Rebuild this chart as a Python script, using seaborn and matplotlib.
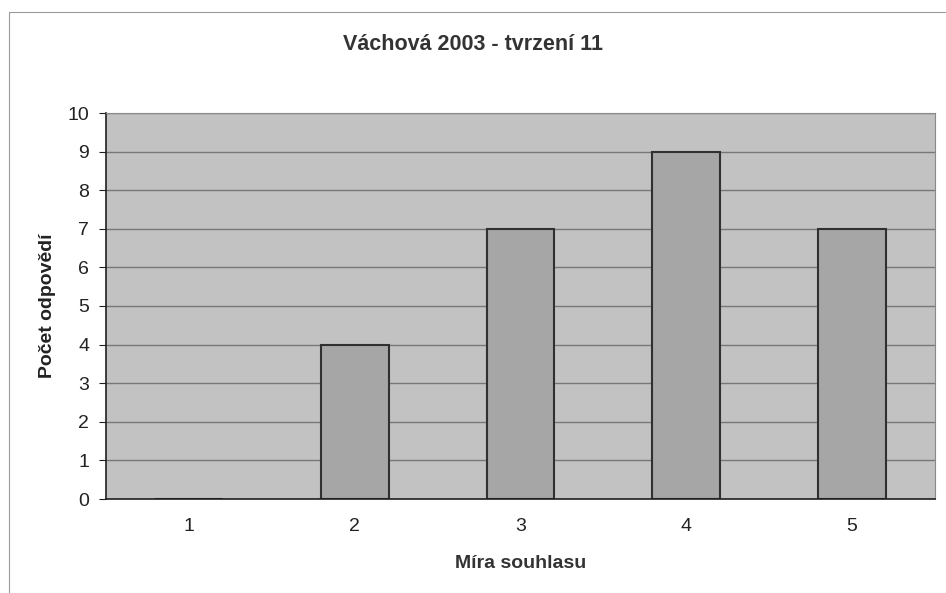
import matplotlib
matplotlib.use('Agg')
import matplotlib.pyplot as plt
import seaborn as sns
import pandas as pd

# hodnoty
kategorie = ['1', '2', '3', '4', '5']
pocty = [0, 4, 7, 9, 7]

df = pd.DataFrame({'mira': kategorie, 'pocet': pocty})

sns.set_style('white')
plt.rcParams['font.family'] = ['Liberation Sans', 'DejaVu Sans']

fig = plt.figure(figsize=(9.46, 5.93), dpi=100)
ax = fig.add_axes([106 / 946, 1 - 499 / 593, (935 - 106) / 946, (499 - 113) / 593])

sns.barplot(data=df, x='mira', y='pocet', ax=ax, color='#a6a6a6', width=0.41,
            edgecolor='#303030', linewidth=1.5, saturation=1)

ax.set_facecolor('#c2c2c2')
ax.set_ylim(0, 10)
ax.set_xlim(-0.5, 4.5)
ax.set_yticks(range(0, 11))
ax.yaxis.grid(True, color='#777777', linewidth=1)
ax.set_axisbelow(True)
for s in ['top', 'right']:
    ax.spines[s].set_color('#8a8a8a')
for s in ['left', 'bottom']:
    ax.spines[s].set_color('#202020')
    ax.spines[s].set_linewidth(1.2)

# tick carky mezi kategoriemi na ose x
ax.set_xticks([i - 0.5 for i in range(6)], minor=True)
ax.tick_params(axis='x', which='minor', length=5, color='#202020')
ax.tick_params(axis='x', which='major', length=0, labelsize=14, pad=14, colors='#222222')
ax.tick_params(axis='y', length=5, left=True, color='#202020', labelsize=14, pad=7, colors='#222222')

ax.set_xlabel('Míra souhlasu', fontsize=14, fontweight='bold', labelpad=14, color='#333333')
ax.set_ylabel('Počet odpovědí', fontsize=14, fontweight='bold', labelpad=8, color='#222222')
fig.text(0.5, 1 - 45 / 593, 'Váchová 2003 - tvrzení 11', ha='center', va='center',
         fontsize=15.5, fontweight='bold', color='#333333')

# ramecek okolo grafu (jen horni a leva hrana jsou videt)
fig.add_artist(plt.Line2D([9 / 946, 9 / 946], [0, 1 - 12 / 593], transform=fig.transFigure,
                          color='#9a9a9a', linewidth=0.8))
fig.add_artist(plt.Line2D([9 / 946, 1], [1 - 12 / 593, 1 - 12 / 593], transform=fig.transFigure,
                          color='#9a9a9a', linewidth=0.8))

fig.savefig('out.png', dpi=100)
